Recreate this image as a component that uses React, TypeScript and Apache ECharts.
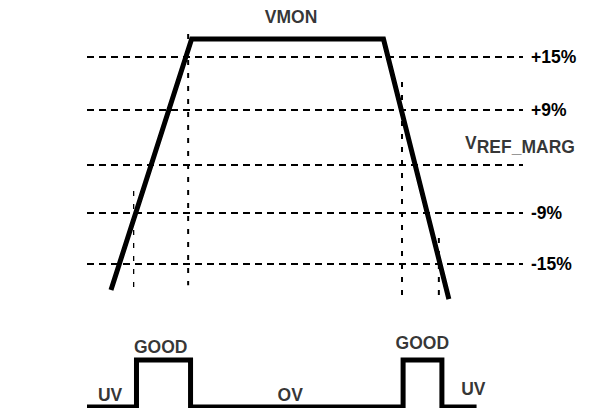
import React, { useEffect, useRef } from "react";
import * as echarts from "echarts";

// Time axis (arbitrary units) and VMON level axis (threshold steps, not to scale)
const timeMin = 0;
const timeMax = 100;

// Horizontal threshold lines
const thresholdLevels = [2.02, 1.0, -0.06, -0.98, -1.96];
const thresholdLabels = ["+15%", "+9%", "", "-9%", "-15%"];

// VMON trapezoid waveform
const vmonTimes = [5.5, 24.0, 68.0, 83.0];
const vmonLevels = [-2.46, 2.365, 2.365, -2.635];

// Vertical dashed markers (threshold crossings)
const markerTimes = [10.7, 23.2, 72.25, 80.7];
const markerTops = [-0.56, 2.46, 1.54, -1.46];
const markerBottoms = [-2.56, -2.37, -2.65, -2.69];
const markerWidths = [1.3, 2, 2, 2];

// Output status waveform (0 = low, 1 = high)
const outTimes = [0, 11.35, 23.75, 72.5, 81.4, 89.35];
const outStates = [0, 1, 0, 1, 0, 0];

// Status labels
const statusTexts = ["UV", "GOOD", "OV", "GOOD", "UV"];
const statusTimes = [5.3, 16.9, 46.6, 76.9, 88.6];
const statusLevels = [0.26, 1.27, 0.26, 1.37, 0.38];

// Top labels
const vmonLabel = "VMON";
const vmonLabelPos = [46.8, 2.78];
const vrefLabelPos = [86.7, 0.33];

const FONT = "'Liberation Sans', Arial, Helvetica, sans-serif";

export default function App() {
  const ref = useRef<HTMLDivElement>(null);

  useEffect(() => {
    if (!ref.current) return;
    const chart = echarts.init(ref.current, undefined, { renderer: "svg" });

    const textStyle = {
      color: "#000",
      fontFamily: FONT,
      fontWeight: "bold" as const,
      fontSize: 17.5,
    };

    const markerSeries = markerTimes.map((t, i) => ({
      type: "line" as const,
      xAxisIndex: 0,
      yAxisIndex: 0,
      data: [
        [t, markerTops[i]],
        [t, markerBottoms[i]],
      ],
      symbol: "none",
      silent: true,
      lineStyle: {
        color: "#000",
        width: markerWidths[i],
        type: [5, 8],
      },
      z: 1,
    }));

    const option = {
      animation: false,
      grid: [
        { left: 87, right: 66, top: 6, bottom: 90 },
        { left: 87, right: 66, top: 313, bottom: 1 },
      ],
      xAxis: [
        { type: "value", gridIndex: 0, min: timeMin, max: timeMax, show: false },
        { type: "value", gridIndex: 1, min: timeMin, max: timeMax, show: false },
      ],
      yAxis: [
        { type: "value", gridIndex: 0, min: -3, max: 3, show: false },
        { type: "value", gridIndex: 1, min: 0, max: 2, show: false },
      ],
      series: [
        ...markerSeries,
        {
          type: "line",
          xAxisIndex: 0,
          yAxisIndex: 0,
          data: vmonTimes.map((t, i) => [t, vmonLevels[i]]),
          symbol: "none",
          silent: true,
          lineStyle: { color: "#000", width: 5, join: "miter" },
          z: 3,
          markLine: {
            silent: true,
            symbol: "none",
            lineStyle: { color: "#000", width: 2, type: [7, 5] },
            data: thresholdLevels.map((lv, i) => ({
              yAxis: lv,
              label: {
                show: thresholdLabels[i] !== "",
                formatter: thresholdLabels[i],
                position: "end",
                distance: 8,
                ...textStyle,
              },
            })),
          },
        },
        {
          type: "scatter",
          xAxisIndex: 0,
          yAxisIndex: 0,
          symbolSize: 1,
          clip: false,
          itemStyle: { color: "transparent" },
          silent: true,
          data: [
            {
              value: vmonLabelPos,
              label: {
                show: true,
                position: "inside",
                formatter: vmonLabel,
                ...textStyle,
              },
            },
            {
              value: vrefLabelPos,
              label: {
                show: true,
                position: "inside",
                align: "left",
                formatter: "{v|V}{s|REF_MARG}",
                rich: {
                  v: { ...textStyle, verticalAlign: "top", lineHeight: 22 },
                  s: { ...textStyle, verticalAlign: "bottom", lineHeight: 22 },
                },
              },
            },
          ],
        },
        {
          type: "line",
          xAxisIndex: 1,
          yAxisIndex: 1,
          step: "end",
          data: outTimes.map((t, i) => [t, outStates[i]]),
          symbol: "none",
          silent: true,
          clip: false,
          lineStyle: { color: "#000", width: 5, join: "miter" },
        },
        {
          type: "scatter",
          xAxisIndex: 1,
          yAxisIndex: 1,
          symbolSize: 1,
          clip: false,
          itemStyle: { color: "transparent" },
          silent: true,
          data: statusTexts.map((s, i) => ({
            value: [statusTimes[i], statusLevels[i]],
            label: {
              show: true,
              position: "inside",
              formatter: s,
              ...textStyle,
            },
          })),
        },
      ],
    };

    chart.setOption(option as any);
    return () => chart.dispose();
  }, []);

  return (
    <div
      ref={ref}
      style={{ position: "fixed", left: 0, top: 0, width: 589, height: 408, background: "#fff" }}
    />
  );
}
